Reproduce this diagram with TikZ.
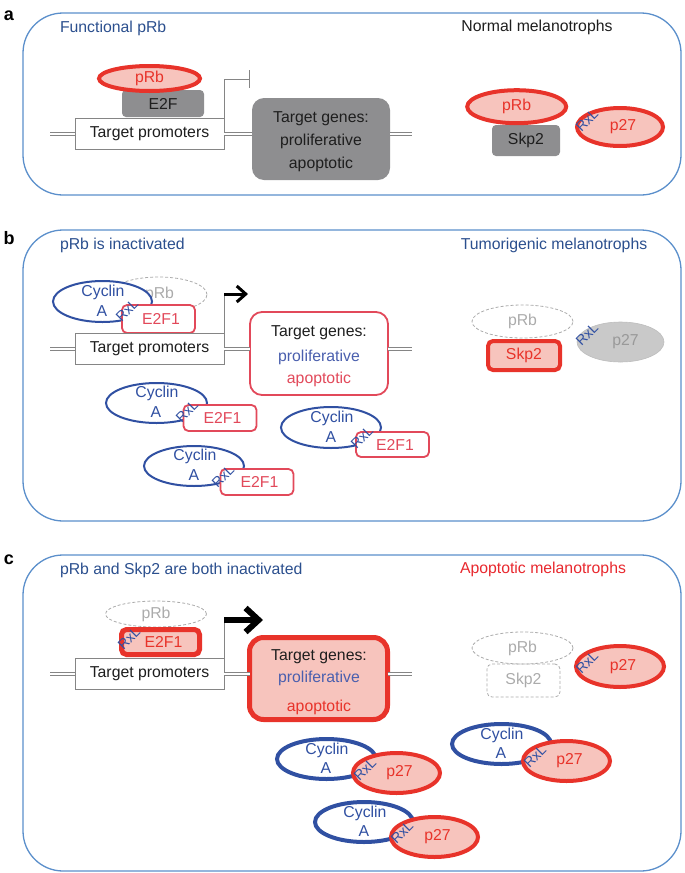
\documentclass[tikz,border=0pt]{standalone}
\usepackage{fontspec}
\setmainfont{Liberation Sans}
\usetikzlibrary{shapes.geometric, arrows.meta}
\definecolor{panelblue}{HTML}{5B8FCB}
\definecolor{titleblue}{HTML}{2B4F8E}
\definecolor{cycblue}{HTML}{3050A2}
\definecolor{prolblue}{HTML}{4A5FAE}
\definecolor{redthick}{HTML}{E8332A}
\definecolor{pinkfill}{HTML}{F7C4BD}
\definecolor{e2fred}{HTML}{E2495A}
\definecolor{boxgray}{HTML}{8E8E90}
\definecolor{dashgray}{HTML}{ABABAB}
\definecolor{linegray}{HTML}{858585}
\definecolor{txtblack}{HTML}{1E1E1E}
\definecolor{p27gray}{HTML}{C9C9C9}
\definecolor{p27edge}{HTML}{BDBDBD}
\definecolor{p27txt}{HTML}{999999}
\definecolor{aptred}{HTML}{E8282E}
\newcommand{\mainsz}{\fontsize{15.8}{19}\selectfont}
\tikzset{
 panel/.style={draw=panelblue, line width=1.3pt, rounded corners=40pt},
 plabel/.style={font=\bfseries\fontsize{18}{20}\selectfont, text=black},
 ptitle/.style={anchor=west, text=titleblue},
 promo/.style={draw=linegray, line width=0.8pt, fill=white, minimum width=149pt, minimum height=31pt, text=txtblack},
 dna/.style={draw=linegray, double=white, double distance=2.6pt, line width=0.9pt},
 grayshape/.style={fill=boxgray, rounded corners=4pt, text=txtblack},
 redell/.style={ellipse, draw=redthick, line width=4pt, fill=pinkfill, text=redthick},
 ghostell/.style={ellipse, draw=dashgray, dash pattern=on 3pt off 2pt, line width=0.8pt, text=dashgray},
 ghostbox/.style={draw=dashgray, dash pattern=on 3pt off 2pt, line width=0.8pt, rounded corners=5pt, text=dashgray},
 cycthin/.style={ellipse, draw=cycblue, line width=2pt, fill=white},
 cycthick/.style={ellipse, draw=cycblue, line width=4pt, fill=white},
 cyctxt/.style={text=cycblue},
 rxl/.style={rotate=45, text=cycblue, font=\fontsize{14}{14}\selectfont},
 e2fthin/.style={draw=e2fred, line width=1.8pt, fill=white, rounded corners=5pt, text=e2fred, minimum width=73pt, minimum height=26pt},
 e2fthick/.style={draw=redthick, line width=5pt, fill=pinkfill, rounded corners=5pt, text=redthick},
 prom/.style={draw=linegray, line width=0.8pt},
}
\begin{document}
\begin{tikzpicture}[x=1pt,y=-1pt, every node/.style={inner sep=0pt, outer sep=0pt, font=\mainsz}]
\useasboundingbox (0,0) rectangle (685,873);

%================ Panel a ================
\draw[panel] (23,13) rectangle (681,195);
\node[plabel] (la) at (9,16) {a};
\node[ptitle] (ta) at (60,28) {Functional pRb};
\node[text=txtblack] (tna) at (537,27) {Normal melanotrophs};

\node[promo] (pa) at (149.5,134) {Target promoters};
\node[grayshape, minimum width=82pt, minimum height=27pt] (e2fa) at (163,103.5) {E2F};
\node[redell, minimum width=101pt, minimum height=25pt] (prba) at (149.5,78.5) {pRb};
\node[grayshape, rounded corners=12pt, minimum width=138pt, minimum height=82pt] (ga) at (321,139) {};
\node[text=txtblack] (ga1) at (321,119) {Target genes:};
\node[text=txtblack] (ga2) at (321,141) {proliferative};
\node[text=txtblack] (ga3) at (321,164) {apoptotic};
\coordinate (da0) at (50,134);
\coordinate (da1) at (412,134);
\draw[dna] (da0) -- (pa.west);
\draw[dna] (pa.east) -- (pa.east -| ga.west);
\draw[dna] (ga.east |- da1) -- (da1);
\coordinate (ea) at (250,79);
\draw[prom, line width=1pt, -{Bar[width=18pt]}] (pa.north east) |- (ea);

\node[grayshape, minimum width=68pt, minimum height=31pt] (skpa) at (526,140.5) {Skp2};
\node[redell, minimum width=99pt, minimum height=33pt] (prba2) at (516.7,106.7) {pRb};
\node[redell, minimum width=86pt, minimum height=38pt] (p27a) at (620,127) {\hspace*{6pt}p27};
\node[rxl] (rxa) at (587,120) {RxL};

%================ Panel b ================
\draw[panel] (23,230) rectangle (681,521);
\node[plabel] (lb) at (9,238) {b};
\node[ptitle] (tb) at (60,245) {pRb is inactivated};
\node[text=titleblue] (tnb) at (554,245) {Tumorigenic melanotrophs};

\node[ghostell, minimum width=97pt, minimum height=35pt] (prbb) at (158.5,294.5) {\hspace*{2pt}pRb};
\node[cycthin, minimum width=99pt, minimum height=41pt] (cb0) at (102.5,301.5) {};
\node[cyctxt] (cb0t1) at (103,292) {Cyclin};
\node[cyctxt] (cb0t2) at (102,311) {A};
\node[e2fthin, minimum height=28pt] (eb0) at (158.5,319) {\hspace*{5pt}E2F1};
\node[rxl] (rxb0) at (127,310) {RxL};

\node[promo] (pb) at (149.5,348.5) {Target promoters};
\node[draw=e2fred, line width=1.8pt, rounded corners=12pt, fill=white, minimum width=138pt, minimum height=83pt] (gb) at (319,353.5) {};
\node[text=txtblack] (gb1) at (319,333) {Target genes:};
\node[text=prolblue] (gb2) at (319,357) {proliferative};
\node[text=e2fred] (gb3) at (319,379) {apoptotic};
\coordinate (db0) at (50,349);
\coordinate (db1) at (412,349);
\draw[dna] (db0) -- (db0 -| pb.west);
\draw[dna] (db0 -| pb.east) -- (db0 -| gb.west);
\draw[dna] (gb.east |- db1) -- (db1);
\coordinate (eb) at (248,294);
\draw[prom] (pb.north east) -- (pb.north east |- eb);
\draw[line width=3pt, -{Straight Barb[length=9pt, width=16pt]}] (pb.north east |- eb) -- (eb);

\node[ghostell, minimum width=101pt, minimum height=33pt] (prbb2) at (522.5,321.5) {pRb};
\node[draw=redthick, line width=4pt, fill=pinkfill, rounded corners=5pt, text=redthick, minimum width=72pt, minimum height=29pt] (skpb) at (524,355.5) {Skp2};
\node[ellipse, fill=p27gray, draw=p27edge, line width=0.6pt, text=p27txt, minimum width=87pt, minimum height=40pt] (p27b) at (620.5,342) {\hspace*{10pt}p27};
\node[rxl] (rxb) at (587,334) {RxL};

% free complexes b
\node[cycthin, minimum width=101pt, minimum height=40pt] (cb1) at (156.5,403) {};
\node[cyctxt] (cb1t1) at (157,393.5) {Cyclin};
\node[cyctxt] (cb1t2) at (156,412.5) {A};
\node[e2fthin] (eb1) at (220,418) {\hspace*{5pt}E2F1};
\node[rxl] (rxb1) at (187,411) {RxL};

\node[cycthin, minimum width=100pt, minimum height=41pt] (cb2) at (331,427.5) {};
\node[cyctxt] (cb2t1) at (332,418) {Cyclin};
\node[cyctxt] (cb2t2) at (331,437) {A};
\node[e2fthin, minimum height=25pt] (eb2) at (392.5,444.5) {\hspace*{5pt}E2F1};
\node[rxl] (rxb2) at (362,437) {RxL};

\node[cycthin, minimum width=100pt, minimum height=40pt] (cb3) at (194,466) {};
\node[cyctxt] (cb3t1) at (195,456.5) {Cyclin};
\node[cyctxt] (cb3t2) at (194,475.5) {A};
\node[e2fthin] (eb3) at (257,482) {\hspace*{5pt}E2F1};
\node[rxl] (rxb3) at (223,476) {RxL};

%================ Panel c ================
\draw[panel] (23,555) rectangle (681,871);
\node[plabel] (lc) at (9,560) {c};
\node[ptitle] (tc) at (60,570) {pRb and Skp2 are both inactivated};
\node[text=aptred] (tnc) at (543,569) {Apoptotic melanotrophs};

\node[ghostell, minimum width=101pt, minimum height=26pt] (prbc) at (156,614) {pRb};
\node[e2fthick, minimum width=78pt, minimum height=25pt] (ec0) at (160.5,642) {\hspace*{6pt}E2F1};
\node[rxl] (rxc0) at (129,638) {RxL};

\node[promo] (pc) at (149.5,673.5) {Target promoters};
\node[draw=redthick, line width=5pt, fill=pinkfill, rounded corners=14pt, minimum width=138pt, minimum height=82pt] (gc) at (318.5,678.5) {};
\node[text=txtblack] (gc1) at (319,657) {Target genes:};
\node[text=prolblue] (gc2) at (319,678) {proliferative};
\node[text=redthick] (gc3) at (319,707) {apoptotic};
\coordinate (dc0) at (50,674);
\coordinate (dc1) at (412,674);
\draw[dna] (dc0) -- (dc0 -| pc.west);
\draw[dna] (dc0 -| pc.east) -- (dc0 -| gc.west);
\draw[dna] (gc.east |- dc1) -- (dc1);
\coordinate (ec) at (263,620);
\draw[prom] (pc.north east) -- (pc.north east |- ec);
\draw[line width=6pt, -{Straight Barb[length=13pt, width=24pt]}] (pc.north east |- ec) -- (ec);

\node[ghostell, minimum width=101pt, minimum height=32pt] (prbc2) at (522.5,648) {pRb};
\node[ghostbox, minimum width=73pt, minimum height=33pt] (skpc) at (523.5,680.5) {Skp2};
\node[redell, minimum width=88pt, minimum height=41pt] (p27c0) at (620,666.5) {\hspace*{6pt}p27};
\node[rxl] (rxc) at (587,662) {RxL};

% free complexes c
\node[cycthick, minimum width=99pt, minimum height=40pt] (cc1) at (326.5,759) {};
\node[cyctxt] (cc1t1) at (327,750) {Cyclin};
\node[cyctxt] (cc1t2) at (326,768) {A};
\node[redell, minimum width=87pt, minimum height=40pt] (pc1) at (396.5,773) {\hspace*{6pt}p27};
\node[rxl] (rxc1) at (365,769) {RxL};

\node[cycthick, minimum width=98pt, minimum height=40pt] (cc2) at (364,822) {};
\node[cyctxt] (cc2t1) at (365,813) {Cyclin};
\node[cyctxt] (cc2t2) at (364,831) {A};
\node[redell, minimum width=87pt, minimum height=40pt] (pc2) at (434.5,837) {\hspace*{6pt}p27};
\node[rxl] (rxc2) at (402,832) {RxL};

\node[cycthick, minimum width=99pt, minimum height=40pt] (cc3) at (501.5,744) {};
\node[cyctxt] (cc3t1) at (502,735) {Cyclin};
\node[cyctxt] (cc3t2) at (501,753) {A};
\node[redell, minimum width=87pt, minimum height=40pt] (pc3) at (566.5,761) {\hspace*{6pt}p27};
\node[rxl] (rxc3) at (535,756) {RxL};
\end{tikzpicture}
\end{document}
